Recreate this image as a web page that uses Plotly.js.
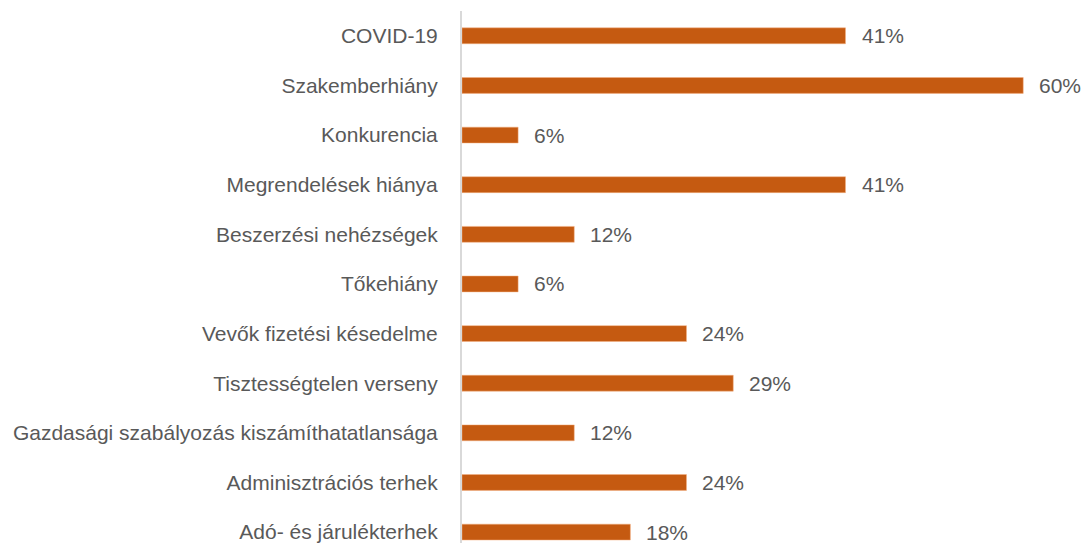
<!DOCTYPE html>
<html>
<head>
<meta charset="utf-8">
<script src="https://cdn.plot.ly/plotly-3.0.1.min.js"></script>
<style>html,body{margin:0;padding:0;background:#fff;}#chart{width:1085px;height:543px;}</style>
</head>
<body>
<div id="chart"></div>
<script>
const categories = [
  "COVID-19",
  "Szakemberhiány",
  "Konkurencia",
  "Megrendelések hiánya",
  "Beszerzési nehézségek",
  "Tőkehiány",
  "Vevők fizetési késedelme",
  "Tisztességtelen verseny",
  "Gazdasági szabályozás kiszámíthatatlansága",
  "Adminisztrációs terhek",
  "Adó- és járulékterhek"
];
const values = [41, 60, 6, 41, 12, 6, 24, 29, 12, 24, 18];
const valueLabels = values.map(v => v + "%");

const font = {family: "Liberation Sans, Arial, sans-serif", size: 21, color: "#595959"};

const annotations = categories.map((c, i) => ({
  x: values[i], y: c, xref: "x", yref: "y",
  text: valueLabels[i], showarrow: false,
  xanchor: "left", yanchor: "middle", xshift: 14,
  font: font
}));

Plotly.newPlot("chart", [{
  type: "bar",
  orientation: "h",
  x: values,
  y: categories,
  marker: {color: "#C55A11", line: {color: "#F4B183", width: 0.5}},
  hoverinfo: "skip"
}], {
  width: 1085, height: 543,
  margin: {l: 462, r: 15, t: 11, b: 0},
  paper_bgcolor: "#fff", plot_bgcolor: "#fff",
  bargap: 0.68,
  showlegend: false,
  annotations: annotations,
  xaxis: {range: [0, 65], showgrid: false, zeroline: false, showticklabels: false, showline: false, ticks: ""},
  yaxis: {type: "category", range: [10.22, -0.5], showgrid: false, zeroline: false,
          showline: true, linecolor: "#D9D9D9", linewidth: 2, ticks: "", ticklabelstandoff: 18,
          tickfont: font}
}, {displayModeBar: false, staticPlot: true});
</script>
</body>
</html>
